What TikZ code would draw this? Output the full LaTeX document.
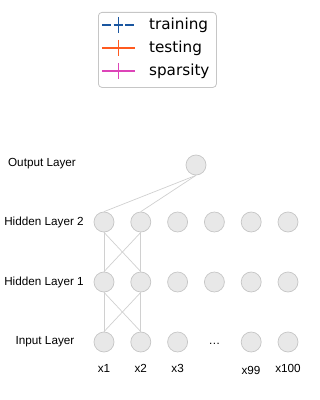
\documentclass[tikz,border=0pt]{standalone}
\usepackage{fontspec}
\setmainfont{Liberation Sans}
\newfontfamily\legendfont{DejaVu Sans}
\usepackage{xcolor}
\usetikzlibrary{positioning, calc}

\definecolor{nodefill}{HTML}{E8E8E8}
\definecolor{nodeedge}{HTML}{C6C6C6}
\definecolor{linkgray}{HTML}{D0D0D0}
\definecolor{trainblue}{HTML}{1A56A0}
\definecolor{testorange}{HTML}{FF5A1F}
\definecolor{sparsemagenta}{HTML}{DD44B8}

\tikzset{
  neuron/.style={circle, draw=nodeedge, fill=nodefill, line width=0.6pt, minimum size=0.6cm, inner sep=0pt},
  layerlabel/.style={font=\fontsize{10}{12}\selectfont},
  link/.style={draw=linkgray, line width=0.6pt},
  legendtext/.style={font=\legendfont\fontsize{13}{15}\selectfont, anchor=west},
  dashedentry/.style={dash pattern=on 7.5pt off 2.5pt},
  solidentry/.style={solid},
}

\begin{document}
\begin{tikzpicture}[x=0.03cm, y=-0.03cm]
  \useasboundingbox (0,0) rectangle (320,400);

  % Legend box
  \node[draw=nodeedge, rounded corners=3pt, line width=0.7pt, minimum width=3.54cm, minimum height=2.25cm, anchor=north west] (legend) at (98,12) {};

  % Legend entries: y/colour/label/pattern
  \foreach \y/\col/\lbl/\pat/\nm in {25/trainblue/training/dashedentry/train,
                                     48/testorange/testing/solidentry/test,
                                     71/sparsemagenta/sparsity/solidentry/sparse} {
    \coordinate (\nm-a) at (102,\y);
    \coordinate (\nm-b) at (135,\y);
    \coordinate (\nm-c) at (118.5,\y);
    \draw[\col, line width=1.7pt, \pat] (\nm-a) -- (\nm-b);
    \draw[\col, line width=1.4pt] ($(\nm-c)+(0,-8)$) -- ($(\nm-c)+(0,8)$);
    \node[legendtext] (\nm-lbl) at (145,\y) {\lbl};
  }

  % Layer labels
  \node[layerlabel] (lbl-out) at (42,164) {Output Layer};
  \node[layerlabel] (lbl-h2) at (44,222) {Hidden Layer 2};
  \node[layerlabel] (lbl-h1) at (44,282) {Hidden Layer 1};
  \node[layerlabel] (lbl-in) at (45,342) {Input Layer};

  % Neurons (x spacing 36.8px)
  \node[neuron] (out) at (196,165) {};
  \foreach \i in {1,...,6} {
    \node[neuron] (h2-\i) at ({104+36.8*(\i-1)},222) {};
    \node[neuron] (h1-\i) at ({104+36.8*(\i-1)},282) {};
  }
  \foreach \i in {1,2,3,5,6}
    \node[neuron] (in-\i) at ({104+36.8*(\i-1)},342) {};
  \node[layerlabel] (dots) at (214.4,344) {\dots};

  % Input names
  \foreach \i/\lbl in {1/x1, 2/x2, 3/x3, 6/x100}
    \node[layerlabel] (name-\i) at ({104+36.8*(\i-1)},368) {\lbl};
  \node[layerlabel] (name-5) at (251,370) {x99};

  % Connections
  \foreach \i in {1,2} {
    \draw[link] (out.south) -- (h2-\i.north);
    \foreach \j in {1,2} {
      \draw[link] (h2-\i.south) -- (h1-\j.north);
      \draw[link] (h1-\i.south) -- (in-\j.north);
    }
  }
\end{tikzpicture}
\end{document}
